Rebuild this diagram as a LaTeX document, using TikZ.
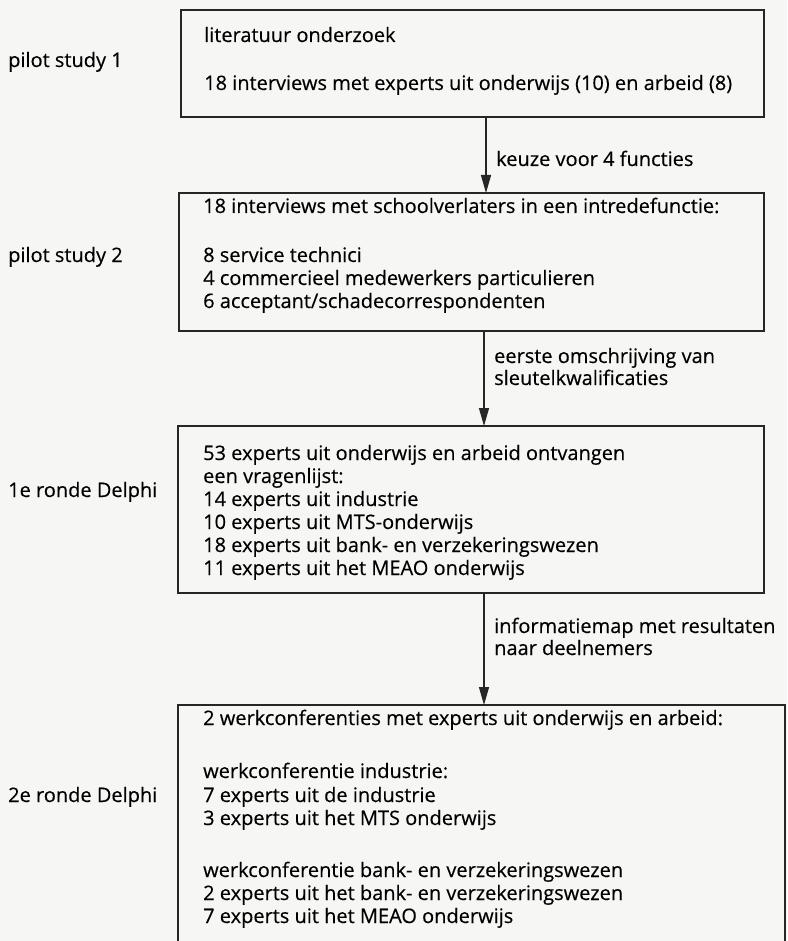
\documentclass[tikz,border=0pt]{standalone}
\usepackage{fontspec}
\setmainfont{Open Sans}
\newfontfamily\txtfont[FakeBold=0.35]{Open Sans}
\usetikzlibrary{arrows.meta}
\definecolor{paper}{rgb}{0.965,0.965,0.96}
\begin{document}
\begin{tikzpicture}[x=1pt,y=-1pt,
  txt/.style={anchor=base west,inner sep=0pt,font=\txtfont\fontsize{20}{24}\selectfont,text=black},
  boxline/.style={line width=1.3pt,draw=black!85},
  flow/.style={line width=1.3pt,draw=black!85,-{Triangle[length=18pt,width=10pt]}}]
\fill[paper] (0,0) rectangle (787,941);
\useasboundingbox (0,0) rectangle (787,941);
% boxes
\draw[boxline] (181,10) rectangle (764,117);
\draw[boxline] (179,193) rectangle (764,331);
\draw[boxline] (178,426) rectangle (764,593);
\draw[boxline] (178,950) -- (178,705) -- (785,705) -- (785,950);
\coordinate (b1) at (486,117);
\coordinate (t2) at (486,193);
\coordinate (b2) at (484,331);
\coordinate (t3) at (484,426);
\coordinate (b3) at (484,593);
\coordinate (t4) at (484,705);
% left labels
\node[txt] (l1) at (8,67) {pilot study 1};
\node[txt] (l2) at (8,262) {pilot study 2};
\node[txt] (l3) at (8,497) {1e ronde Delphi};
\node[txt] (l4) at (8,802) {2e ronde Delphi};
% box 1
\node[txt] (a1) at (204,42) {literatuur onderzoek};
\node[txt] (a2) at (204,90) {18 interviews met experts uit onderwijs (10) en arbeid (8)};
% box 2
\node[txt] (c1) at (203,213) {18 interviews met schoolverlaters in een intredefunctie:};
\node[txt] (c2) at (203,262) {8 service technici};
\node[txt] (c3) at (203,285) {4 commercieel medewerkers particulieren};
\node[txt] (c4) at (203,308) {6 acceptant/schadecorrespondenten};
% box 3
\node[txt] (d1) at (203,460) {53 experts uit onderwijs en arbeid ontvangen};
\node[txt] (d2) at (203,483) {een vragenlijst:};
\node[txt] (d3) at (203,506) {14 experts uit industrie};
\node[txt] (d4) at (203,529) {10 experts uit MTS-onderwijs};
\node[txt] (d5) at (203,552) {18 experts uit bank- en verzekeringswezen};
\node[txt] (d6) at (203,575) {11 experts uit het MEAO onderwijs};
% box 4
\node[txt] (e1) at (203,725) {2 werkconferenties met experts uit onderwijs en arbeid:};
\node[txt] (e2) at (203,778) {werkconferentie industrie:};
\node[txt] (e3) at (203,802) {7 experts uit de industrie};
\node[txt] (e4) at (203,825) {3 experts uit het MTS onderwijs};
\node[txt] (e5) at (203,877) {werkconferentie bank- en verzekeringswezen};
\node[txt] (e6) at (203,900) {2 experts uit het bank- en verzekeringswezen};
\node[txt] (e7) at (203,923) {7 experts uit het MEAO onderwijs};
% arrows
\draw[flow] (b1) -- (t2);
\draw[flow] (b2) -- (t3);
\draw[flow] (b3) -- (t4);
\node[txt] (k1) at (496,166) {keuze voor 4 functies};
\node[txt] (k2) at (494,363) {eerste omschrijving van};
\node[txt] (k3) at (494,385) {sleutelkwalificaties};
\node[txt] (k4) at (494,633) {informatiemap met resultaten};
\node[txt] (k5) at (494,655) {naar deelnemers};
\end{tikzpicture}
\end{document}
